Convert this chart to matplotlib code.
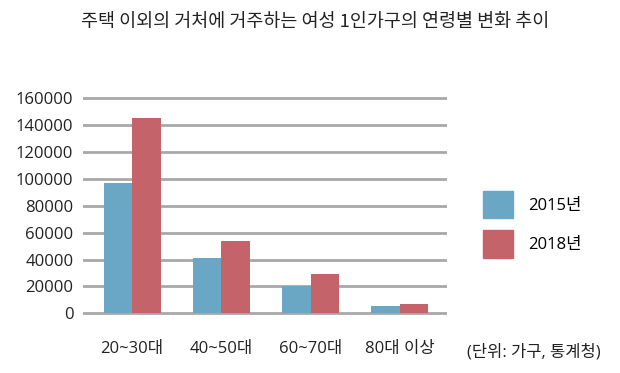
import matplotlib
matplotlib.use('Agg')
import matplotlib.pyplot as plt
import matplotlib.patches as mpatches
import numpy as np

plt.rcParams['font.family'] = ['Open Sans', 'Noto Sans CJK KR', 'DejaVu Sans']

groups = ['20~30대', '40~50대', '60~70대', '80대 이상']
y2015 = [97000, 41500, 20300, 5700]
y2018 = [145000, 54000, 29000, 6900]
yticks = [0, 20000, 40000, 60000, 80000, 100000, 120000, 140000, 160000]

blue = '#6aa7c4'
red = '#c4636a'

fig = plt.figure(figsize=(6.2, 3.73), dpi=100)
ax = fig.add_axes([0.134, 0.1565, 0.587, 0.5836])

x = np.arange(len(groups))
w = 0.32
ax.bar(x - w/2, y2015, w, color=blue, zorder=3)
ax.bar(x + w/2, y2018, w, color=red, zorder=3)

ax.set_xlim(-0.55, 3.53)
ax.set_ylim(-1000, 161000)
ax.set_yticks(yticks)
ax.set_yticklabels([str(v) for v in yticks], fontsize=12, color='#222222')
ax.set_xticks(x)
ax.set_xticklabels(groups, fontsize=12, color='#222222')
ax.tick_params(axis='both', length=0)
ax.tick_params(axis='y', pad=7)
ax.tick_params(axis='x', pad=19)
ax.grid(axis='y', color='#a8a8a8', linewidth=2, zorder=0)
for s in ax.spines.values():
    s.set_visible(False)

fig.text(0.509, 1 - 22/373, '주택 이외의 거처에 거주하는 여성 1인가구의 연령별 변화 추이',
         ha='center', va='center', fontsize=13.3, color='#222222',
         family=['Noto Sans CJK KR', 'DejaVu Sans'])

handles = [mpatches.Patch(color=blue, label='2015년'),
           mpatches.Patch(color=red, label='2018년')]
fig.legend(handles=handles, loc='upper left', bbox_to_anchor=(483/620, 1 - 191/373),
           frameon=False, fontsize=12, handlelength=1.8, handleheight=2.16,
           labelspacing=0.72, handletextpad=0.9, borderpad=0, borderaxespad=0)

fig.text(467/620, 1 - 352/373, '(단위: 가구, 통계청)', ha='left', va='center',
         fontsize=11.9, color='#222222')

fig.savefig('out.png', dpi=100)
